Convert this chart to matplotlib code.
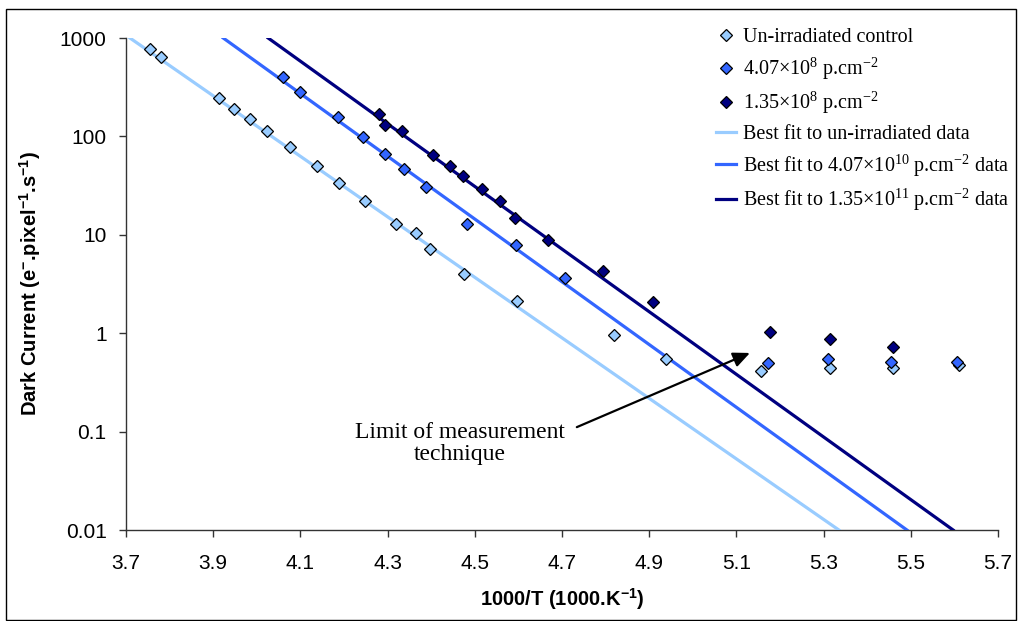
import matplotlib
matplotlib.use("Agg")
import matplotlib.pyplot as plt
from matplotlib.patches import Rectangle

plt.rcParams['mathtext.fontset'] = 'custom'
plt.rcParams['mathtext.rm'] = 'Liberation Serif'
plt.rcParams['mathtext.it'] = 'Liberation Serif:italic'
plt.rcParams['mathtext.bf'] = 'Liberation Serif:bold'
plt.rcParams['mathtext.sf'] = 'Liberation Sans:bold'

# ---- data ----
light_x = [3.755, 3.780, 3.913, 3.948, 3.984, 4.023, 4.075, 4.137, 4.189, 4.248, 4.319,
           4.365, 4.397, 4.475, 4.597, 4.820, 4.939, 5.156, 5.315, 5.460, 5.611]
light_y = [768, 646, 244, 190, 149, 114, 78.5, 50, 33.3, 22, 12.8,
           10.4, 7.2, 4.0, 2.12, 0.966, 0.547, 0.416, 0.443, 0.447, 0.479]

mid_x = [4.059, 4.100, 4.186, 4.243, 4.294, 4.338, 4.388, 4.483, 4.594, 4.707,
         5.172, 5.309, 5.454, 5.607]
mid_y = [398, 285, 156, 99, 67, 46.7, 30.8, 12.9, 7.9, 3.66,
         0.50, 0.543, 0.514, 0.51]

dark_x = [4.280, 4.295, 4.332, 4.405, 4.442, 4.474, 4.516, 4.558, 4.592, 4.667,
          4.795, 4.909, 5.177, 5.315, 5.460]
dark_y = [168, 131, 114, 64, 50, 40, 29, 22.2, 14.7, 8.85,
          4.3, 2.09, 1.04, 0.87, 0.73]

fit_y = [1000, 0.01]
fit_light_x = [3.709, 5.335]
fit_mid_x = [3.923, 5.491]
fit_dark_x = [4.026, 5.597]

x_ticks = [3.7, 3.9, 4.1, 4.3, 4.5, 4.7, 4.9, 5.1, 5.3, 5.5, 5.7]
y_ticks = [0.01, 0.1, 1, 10, 100, 1000]
y_ticklabels = ['0.01', '0.1', '1', '10', '100', '1000']

labels = ["Un-irradiated control",
          r"4.07$\times$10$^{8}$ p.cm$^{-2}$",
          r"1.35$\times$10$^{8}$ p.cm$^{-2}$",
          "Best fit to un-irradiated data",
          r"Best fit to 4.07$\times$10$^{10}$ p.cm$^{-2}$ data",
          r"Best fit to 1.35$\times$10$^{11}$ p.cm$^{-2}$ data"]

annot_text = "Limit of measurement\ntechnique"
annot_tip = (5.131, 0.63)
annot_start = (4.734, 0.111)
annot_center = (4.466, 0.076)

c_light = '#99CCFF'
c_mid = '#3366FF'
c_dark = '#000080'

W, H = 1018, 621
fig = plt.figure(figsize=(W / 100, H / 100), dpi=100)
ax = fig.add_axes([126 / W, (H - 530) / H, (998 - 126) / W, (530 - 38) / H])

ms = 6.5
h1, = ax.plot(light_x, light_y, linestyle='none', marker='D', ms=ms, mfc=c_light, mec='black', mew=0.9, zorder=4)
h2, = ax.plot(mid_x, mid_y, linestyle='none', marker='D', ms=ms, mfc=c_mid, mec='black', mew=0.9, zorder=4)
h3, = ax.plot(dark_x, dark_y, linestyle='none', marker='D', ms=ms, mfc=c_dark, mec='black', mew=0.9, zorder=4)
h4, = ax.plot(fit_light_x, fit_y, color=c_light, lw=2.3, zorder=3)
h5, = ax.plot(fit_mid_x, fit_y, color=c_mid, lw=2.3, zorder=3)
h6, = ax.plot(fit_dark_x, fit_y, color=c_dark, lw=2.3, zorder=3)

ax.set_yscale('log')
ax.set_xlim(3.7, 5.7)
ax.set_ylim(0.01, 1000)
ax.set_xticks(x_ticks)
ax.set_xticklabels([f"{v:.1f}" for v in x_ticks])
ax.set_yticks(y_ticks)
ax.set_yticklabels(y_ticklabels)
ax.yaxis.set_minor_locator(matplotlib.ticker.NullLocator())

for s in ['top', 'right']:
    ax.spines[s].set_visible(False)
for s in ['left', 'bottom']:
    ax.spines[s].set_linewidth(1.0)
    ax.spines[s].set_color('#333333')

ax.tick_params(axis='x', direction='out', length=5, width=1, pad=12, colors='#333333', labelcolor='black')
ax.tick_params(axis='y', direction='out', length=5, width=1, pad=9, colors='#333333', labelcolor='black')
for lab in ax.get_xticklabels() + ax.get_yticklabels():
    lab.set_fontfamily('Liberation Sans')
    lab.set_fontsize(15)

ax.set_xlabel(r"1000/T (1000.K$^{\mathsf{-1}}$)", fontfamily='Liberation Sans',
              fontweight='bold', fontsize=14.5, labelpad=10)
ax.set_ylabel(r"Dark Current (e$^{\mathsf{-}}$.pixel$^{\mathsf{-1}}$.s$^{\mathsf{-1}}$)",
              fontfamily='Liberation Sans', fontweight='bold', fontsize=14.5, labelpad=12)

leg = fig.legend([h1, h2, h3, h4, h5, h6], labels, loc='upper left',
                 bbox_to_anchor=(716 / W, (H - 28) / H), frameon=False,
                 prop={'family': 'Liberation Serif', 'size': 14.5},
                 handlelength=1.0, handletextpad=0.35, labelspacing=0.42,
                 borderpad=0, borderaxespad=0)

ax.text(annot_center[0], annot_center[1], annot_text, ha='center', va='center',
        fontfamily='Liberation Serif', fontsize=17, linespacing=1.05)
ax.annotate("", xy=annot_tip, xytext=annot_start, textcoords='data',
            arrowprops=dict(arrowstyle='-|>,head_length=1.0,head_width=0.45', color='black',
                            lw=1.6, shrinkA=0, shrinkB=0))

fig.patches.append(Rectangle((6 / W, 1 / H), (1016 - 6) / W, (H - 9 - 1) / H,
                             transform=fig.transFigure, fill=False,
                             edgecolor='black', lw=1.0))

fig.savefig('out.png', dpi=100)
